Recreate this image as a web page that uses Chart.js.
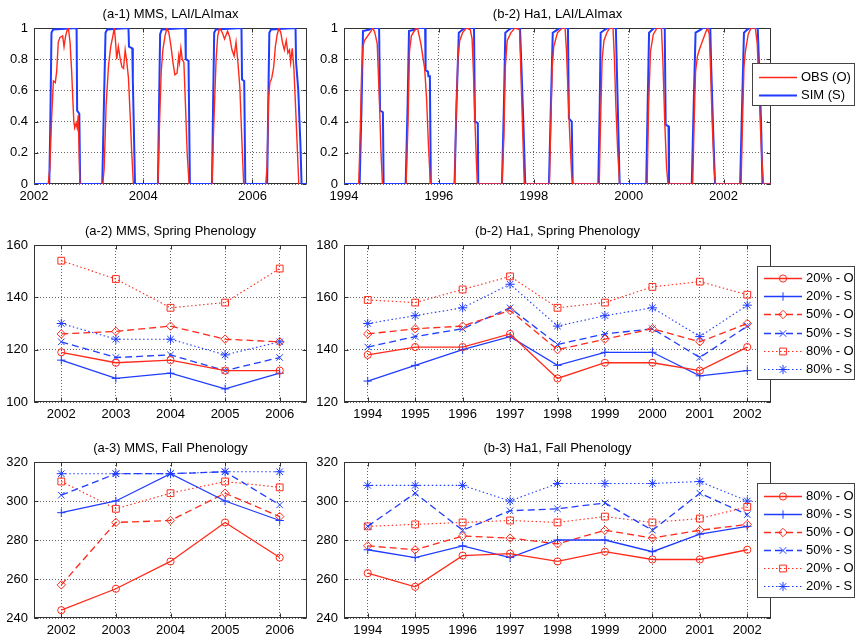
<!DOCTYPE html>
<html>
<head>
<meta charset="utf-8">
<script src="https://cdn.jsdelivr.net/npm/chart.js@4.4.0/dist/chart.umd.min.js"></script>
<style>
  html, body { margin: 0; padding: 0; background: #fff; }
  body { width: 855px; height: 642px; position: relative; overflow: hidden; }
  canvas { position: absolute; }
</style>
</head>
<body>
<canvas id="mmsLai" style="left:0;top:2px" width="320" height="204"></canvas>
<canvas id="ha1Lai" style="left:310px;top:2px" width="545" height="204"></canvas>
<canvas id="mmsSpring" style="left:0;top:219px" width="320" height="205"></canvas>
<canvas id="ha1Spring" style="left:310px;top:219px" width="545" height="205"></canvas>
<canvas id="mmsFall" style="left:0;top:436px" width="320" height="204"></canvas>
<canvas id="ha1Fall" style="left:310px;top:436px" width="545" height="204"></canvas>
<script>
// ---- data ----
const MMS_YEARS = ['2002', '2003', '2004', '2005', '2006'];
const HA1_YEARS = ['1994', '1995', '1996', '1997', '1998', '1999', '2000', '2001', '2002'];
const MMS_LAI_TICKS = [2002, 2004, 2006];
const HA1_LAI_TICKS = [1994, 1996, 1998, 2000, 2002];

// LAI/LAImax, [decimal year, value]; null = no observation
const mmsObs = [
  [2002.26, 0], [2002.29, 0.10], [2002.32, 0.40], [2002.355, 0.66], [2002.39, 0.65], [2002.415, 0.72],
  [2002.445, 0.91], [2002.475, 0.94], [2002.525, 0.95], [2002.55, 0.88], [2002.575, 0.94], [2002.60, 0.98],
  [2002.63, 1.0], [2002.66, 0.91], [2002.69, 0.72], [2002.71, 0.55], [2002.73, 0.40], [2002.745, 0.36],
  [2002.77, 0.39], [2002.79, 0.36], [2002.81, 0.44], [2002.84, 0],
  [2003.0, null],
  [2003.26, 0], [2003.285, 0.10], [2003.32, 0.50], [2003.365, 0.76], [2003.405, 0.88], [2003.445, 0.95],
  [2003.47, 1.0], [2003.49, 0.93], [2003.515, 0.80], [2003.545, 0.88], [2003.58, 0.80], [2003.61, 0.75],
  [2003.64, 0.74], [2003.67, 0.86], [2003.70, 0.78], [2003.73, 0.68], [2003.76, 0.45], [2003.79, 0.20], [2003.82, 0],
  [2004.0, null],
  [2004.27, 0], [2004.30, 0.40], [2004.33, 0.72], [2004.36, 0.86], [2004.40, 0.95], [2004.435, 1.0],
  [2004.47, 0.97], [2004.51, 0.88], [2004.545, 0.78], [2004.58, 0.70], [2004.62, 0.71], [2004.65, 0.82],
  [2004.665, 0.78], [2004.69, 0.87], [2004.715, 0.80], [2004.745, 0.78], [2004.775, 0.50], [2004.805, 0.20], [2004.84, 0],
  [2005.0, null],
  [2005.26, 0], [2005.285, 0.30], [2005.31, 0.55], [2005.335, 0.80], [2005.365, 0.95], [2005.40, 1.0],
  [2005.45, 0.97], [2005.49, 0.93], [2005.545, 0.98], [2005.585, 0.94], [2005.625, 0.86], [2005.665, 0.82],
  [2005.70, 0.91], [2005.73, 0.80], [2005.77, 0.62], [2005.805, 0.30], [2005.84, 0],
  [2006.0, null],
  [2006.245, 0], [2006.27, 0.12], [2006.295, 0.55], [2006.32, 0.65], [2006.355, 0.68], [2006.39, 0.75],
  [2006.42, 0.88], [2006.455, 0.96], [2006.485, 1.0], [2006.52, 0.97], [2006.555, 0.90], [2006.585, 0.86],
  [2006.62, 0.92], [2006.65, 0.84], [2006.68, 0.86], [2006.70, 0.78], [2006.73, 0.87], [2006.76, 0.74],
  [2006.79, 0.50], [2006.82, 0.25], [2006.85, 0]
];
const mmsSim = [
  [2002.0, 0], [2002.28, 0], [2002.30, 0.42], [2002.32, 0.97], [2002.35, 0.99], [2002.78, 1.0],
  [2002.79, 0.47], [2002.83, 0.45], [2002.845, 0],
  [2003.25, 0], [2003.28, 0.50], [2003.31, 0.97], [2003.34, 0.99], [2003.73, 1.0], [2003.74, 0.88],
  [2003.80, 0.87], [2003.81, 0.67], [2003.85, 0],
  [2004.27, 0], [2004.29, 0.50], [2004.31, 0.96], [2004.34, 0.99], [2004.77, 1.0], [2004.78, 0.80],
  [2004.83, 0.79], [2004.855, 0],
  [2005.26, 0], [2005.28, 0.50], [2005.30, 0.97], [2005.33, 0.99], [2005.80, 1.0], [2005.81, 0.67],
  [2005.85, 0.66], [2005.87, 0],
  [2006.27, 0], [2006.29, 0.50], [2006.31, 0.97], [2006.34, 0.99], [2006.79, 1.0], [2006.80, 0.78],
  [2006.84, 0.60], [2006.88, 0.25], [2006.90, 0], [2007.0, 0]
];
const ha1Obs = [
  [1994.31, 0], [1994.34, 0.30], [1994.37, 0.70], [1994.40, 0.88], [1994.43, 0.92], [1994.50, 0.95],
  [1994.57, 0.98], [1994.61, 1.0], [1994.65, 0.97], [1994.70, 0.90], [1994.75, 0.50], [1994.78, 0.20], [1994.81, 0],
  [1995.0, null],
  [1995.31, 0], [1995.35, 0.40], [1995.38, 0.85], [1995.42, 0.95], [1995.50, 0.99], [1995.55, 1.0],
  [1995.62, 0.90], [1995.70, 0.74], [1995.74, 0.55], [1995.78, 0.25], [1995.82, 0],
  [1996.0, null],
  [1996.33, 0], [1996.36, 0.40], [1996.40, 0.80], [1996.44, 0.92], [1996.50, 0.97], [1996.58, 1.0],
  [1996.66, 0.99], [1996.70, 0.93], [1996.73, 0.70], [1996.76, 0.40], [1996.79, 0.15], [1996.81, 0],
  [1997.33, 0], [1997.37, 0.30], [1997.40, 0.75], [1997.44, 0.92], [1997.52, 0.97], [1997.60, 1.0],
  [1997.70, 0.99], [1997.73, 0.70], [1997.77, 0.30], [1997.80, 0],
  [1998.33, 0], [1998.36, 0.40], [1998.39, 0.75], [1998.42, 0.88], [1998.50, 0.97], [1998.60, 1.0],
  [1998.66, 1.0], [1998.69, 0.85], [1998.72, 0.60], [1998.76, 0.30], [1998.80, 0.05], [1998.82, 0],
  [1999.38, 0], [1999.40, 0.30], [1999.44, 0.80], [1999.48, 0.92], [1999.54, 0.97], [1999.60, 1.0],
  [1999.67, 1.0], [1999.70, 0.80], [1999.73, 0.50], [1999.77, 0.20], [1999.81, 0],
  [2000.0, null],
  [2000.39, 0], [2000.42, 0.50], [2000.46, 0.85], [2000.52, 0.96], [2000.60, 1.0], [2000.69, 1.0],
  [2000.72, 0.80], [2000.76, 0.40], [2000.80, 0.10], [2000.83, 0],
  [2001.35, 0], [2001.38, 0.40], [2001.41, 0.72], [2001.45, 0.82], [2001.50, 0.87], [2001.56, 0.92],
  [2001.62, 0.97], [2001.66, 1.0], [2001.70, 0.96], [2001.73, 0.70], [2001.76, 0.40], [2001.80, 0.10], [2001.83, 0],
  [2002.37, 0], [2002.40, 0.40], [2002.43, 0.75], [2002.46, 0.85], [2002.52, 0.96], [2002.58, 1.0],
  [2002.67, 1.0], [2002.71, 0.90], [2002.76, 0.50], [2002.80, 0.20], [2002.84, 0], [2003.0, 0]
];
const ha1Sim = [
  [1994.0, 0], [1994.33, 0], [1994.37, 0.50], [1994.40, 0.98], [1994.54, 0.99], [1994.57, 1.0], [1994.74, 1.0],
  [1994.76, 0.47], [1994.82, 0.46], [1994.835, 0],
  [1995.30, 0], [1995.34, 0.50], [1995.37, 0.98], [1995.50, 0.99], [1995.55, 1.0], [1995.71, 1.0],
  [1995.72, 0.73], [1995.77, 0.72], [1995.78, 0.69], [1995.81, 0.69], [1995.83, 0],
  [1996.33, 0], [1996.37, 0.50], [1996.42, 0.97], [1996.50, 0.99], [1996.55, 1.0], [1996.74, 1.0],
  [1996.76, 0.40], [1996.82, 0.39], [1996.83, 0],
  [1997.33, 0], [1997.37, 0.50], [1997.40, 0.97], [1997.48, 0.99], [1997.53, 1.0], [1997.71, 1.0],
  [1997.74, 0.75], [1997.78, 0.40], [1997.81, 0.10], [1997.82, 0],
  [1998.32, 0], [1998.36, 0.50], [1998.40, 0.97], [1998.50, 0.99], [1998.55, 1.0], [1998.72, 1.0],
  [1998.74, 0.42], [1998.80, 0.40], [1998.82, 0],
  [1999.36, 0], [1999.39, 0.50], [1999.41, 0.97], [1999.50, 0.99], [1999.56, 1.0], [1999.73, 1.0],
  [1999.77, 0.50], [1999.81, 0],
  [2000.37, 0], [2000.40, 0.50], [2000.43, 0.97], [2000.50, 0.99], [2000.54, 1.0], [2000.76, 1.0],
  [2000.78, 0.38], [2000.84, 0.37], [2000.85, 0],
  [2001.33, 0], [2001.37, 0.50], [2001.41, 0.97], [2001.52, 0.99], [2001.56, 1.0], [2001.72, 1.0],
  [2001.74, 0.75], [2001.78, 0.35], [2001.82, 0],
  [2002.35, 0], [2002.39, 0.50], [2002.43, 0.97], [2002.50, 0.99], [2002.55, 1.0], [2002.72, 1.0],
  [2002.75, 0.75], [2002.79, 0.40], [2002.82, 0], [2003.0, 0]
];

// spring phenology (day of year)
const mmsSpring20Obs = [119, 115, 116, 112, 112];
const mmsSpring20Sim = [116, 109, 111, 105, 111];
const mmsSpring50Obs = [126, 127, 129, 124, 123];
const mmsSpring50Sim = [123, 117, 118, 112, 117];
const mmsSpring80Obs = [154, 147, 136, 138, 151];
const mmsSpring80Sim = [130, 124, 124, 118, 123];

const ha1Spring20Obs = [138, 141, 141, 146, 129, 135, 135, 132, 141];
const ha1Spring20Sim = [128, 134, 140, 145, 134, 139, 139, 130, 132];
const ha1Spring50Obs = [146, 148, 149, 155, 140, 144, 148, 143, 150];
const ha1Spring50Sim = [141, 145, 148, 156, 142, 146, 148, 137, 149];
const ha1Spring80Obs = [159, 158, 163, 168, 156, 158, 164, 166, 161];
const ha1Spring80Sim = [150, 153, 156, 165, 149, 153, 156, 145, 157];

// fall phenology (day of year)
const mmsFall80Obs = [244, 255, 269, 289, 271];
const mmsFall80Sim = [294, 300, 314, 300, 290];
const mmsFall50Obs = [257, 289, 290, 304, 292];
const mmsFall50Sim = [303, 314, 314, 315, 298];
const mmsFall20Obs = [310, 296, 304, 310, 307];
const mmsFall20Sim = [314, 314, 314, 315, 315];

const ha1Fall80Obs = [263, 256, 272, 273, 269, 274, 270, 270, 275];
const ha1Fall80Sim = [275, 271, 277, 271, 280, 280, 274, 283, 287];
const ha1Fall50Obs = [277, 275, 282, 281, 278, 285, 281, 285, 288];
const ha1Fall50Sim = [287, 304, 285, 295, 296, 299, 285, 304, 293];
const ha1Fall20Obs = [287, 288, 289, 290, 289, 292, 289, 291, 297];
const ha1Fall20Sim = [308, 308, 308, 300, 309, 309, 309, 310, 300];

// ---- styles ----
const RED = '#ff2a1a';
const BLUE = '#1f3cff';
const FONT = "'Liberation Sans', Arial, Helvetica, sans-serif";

Chart.defaults.font.family = FONT;
Chart.defaults.font.size = 13;
Chart.defaults.color = '#000';
Chart.defaults.animation = false;

// solid / dashed / dotted, O then S
const SERIES_STYLES = [
  {color: RED, dash: [], width: 1.3, pointStyle: 'circle', radius: 3.6},
  {color: BLUE, dash: [], width: 1.3, pointStyle: 'cross', radius: 4.2},
  {color: RED, dash: [7, 4], width: 1.3, pointStyle: 'rectRot', radius: 4.2},
  {color: BLUE, dash: [7, 4], width: 1.3, pointStyle: 'crossRot', radius: 4.6},
  {color: RED, dash: [1.5, 2.5], width: 1.1, pointStyle: 'rect', radius: 4.8},
  {color: BLUE, dash: [1.5, 2.5], width: 1.1, pointStyle: 'star', radius: 4.6}
];

// draws the axes box with inward ticks like the original figure
const frameBoxPlugin = {
  id: 'frameBox',
  beforeDatasetsDraw(chart) {
    const {ctx, chartArea: a, scales} = chart;
    const l = Math.round(a.left) + 0.5, t = Math.round(a.top) + 0.5;
    const r = Math.round(a.right) - 0.5, b = Math.round(a.bottom) - 0.5;
    ctx.save();
    ctx.strokeStyle = '#333';
    ctx.lineWidth = 1;
    ctx.setLineDash([]);
    ctx.strokeRect(l, t, r - l, b - t);
    ctx.beginPath();
    scales.x.ticks.forEach((tick, i) => {
      const px = Math.round(scales.x.getPixelForTick(i)) + 0.5;
      ctx.moveTo(px, b); ctx.lineTo(px, b - 4);
      ctx.moveTo(px, t); ctx.lineTo(px, t + 4);
    });
    scales.y.ticks.forEach((tick, i) => {
      const py = Math.round(scales.y.getPixelForTick(i)) + 0.5;
      ctx.moveTo(l, py); ctx.lineTo(l + 4, py);
      ctx.moveTo(r, py); ctx.lineTo(r - 4, py);
    });
    ctx.stroke();
    ctx.restore();
  }
};

// boxed legend that may overlap the axes, as in the original
const legendBoxPlugin = {
  id: 'legendBox',
  afterDraw(chart, args, opts) {
    const box = opts.box;
    if (!box) return;
    const ctx = chart.ctx;
    ctx.save();
    ctx.fillStyle = '#fff';
    ctx.fillRect(box.x, box.y, box.w, box.h);
    ctx.strokeStyle = '#444';
    ctx.lineWidth = 1;
    ctx.strokeRect(box.x + 0.5, box.y + 0.5, box.w, box.h);
    ctx.font = `13px ${FONT}`;
    ctx.textBaseline = 'middle';
    chart.data.datasets.forEach((ds, i) => {
      const cy = Math.round(box.rowTop + i * box.rowGap) + 0.5;
      ctx.strokeStyle = ds.borderColor;
      ctx.lineWidth = ds.borderWidth;
      ctx.setLineDash(ds.borderDash || []);
      ctx.beginPath();
      ctx.moveTo(box.lineX1, cy);
      ctx.lineTo(box.lineX2, cy);
      ctx.stroke();
      ctx.setLineDash([]);
      if (ds.pointRadius) {
        ctx.lineWidth = 1;
        ctx.fillStyle = 'rgba(0,0,0,0)';
        Chart.helpers.drawPoint(ctx, {pointStyle: ds.pointStyle, radius: ds.pointRadius, borderWidth: 1, rotation: 0},
          (box.lineX1 + box.lineX2) / 2, cy);
      }
      ctx.fillStyle = '#000';
      ctx.fillText(ds.label, box.textX, cy);
    });
    ctx.restore();
  }
};

Chart.register(frameBoxPlugin, legendBoxPlugin);

const gridStyle = {color: 'rgba(0,0,0,0.6)', lineWidth: 1, drawTicks: false};
const gridBorder = {display: false, dash: [1, 2]};

const baseOptions = (title, yMin, yMax, yStep, rightPad, legendBox) => ({
  responsive: false,
  devicePixelRatio: 1,
  layout: {padding: {top: 0, right: rightPad, bottom: 0, left: 0}},
  plugins: {
    legend: {display: false},
    tooltip: {enabled: false},
    title: {
      display: true,
      text: title,
      fullSize: false,
      font: {size: 13, weight: 'normal', lineHeight: '12px'},
      padding: {top: 6, bottom: 8},
      color: '#000'
    },
    legendBox: {box: legendBox}
  },
  scales: {
    y: {
      min: yMin,
      max: yMax,
      ticks: {stepSize: yStep, padding: 6, callback: (v) => String(Math.round(v * 10) / 10)},
      grid: gridStyle,
      border: gridBorder,
      afterFit: (scale) => { scale.width = 34; }
    }
  }
});

const makeLaiChart = (id, title, obs, sim, ticks, xMin, xMax, rightPad, legendBox) => {
  const options = baseOptions(title, 0, 1, 0.2, rightPad, legendBox);
  options.scales.x = {
    type: 'linear',
    min: xMin,
    max: xMax,
    afterBuildTicks: (scale) => { scale.ticks = ticks.map((v) => ({value: v})); },
    ticks: {padding: 5, callback: (v) => String(v)},
    grid: gridStyle,
    border: gridBorder,
    afterFit: (scale) => { scale.height = 22; }
  };
  return new Chart(document.getElementById(id), {
    type: 'line',
    data: {
      datasets: [
        {label: 'OBS (O)', data: obs.map((p) => ({x: p[0], y: p[1]})), borderColor: RED, borderWidth: 1.4, pointRadius: 0},
        {label: 'SIM (S)', data: sim.map((p) => ({x: p[0], y: p[1]})), borderColor: BLUE, borderWidth: 2, pointRadius: 0}
      ]
    },
    options
  });
};

const makePhenoChart = (id, title, years, series, labels, yMin, yMax, rightPad, legendBox) => {
  const options = baseOptions(title, yMin, yMax, 20, rightPad, legendBox);
  options.scales.x = {
    type: 'category',
    offset: true,
    ticks: {padding: 5},
    grid: Object.assign({offset: false}, gridStyle),
    border: gridBorder,
    afterFit: (scale) => { scale.height = 22; }
  };
  return new Chart(document.getElementById(id), {
    type: 'line',
    data: {
      labels: years,
      datasets: series.map((values, i) => {
        const s = SERIES_STYLES[i];
        return {
          label: labels[i],
          data: values,
          borderColor: s.color,
          borderWidth: s.width,
          borderDash: s.dash,
          pointStyle: s.pointStyle,
          pointRadius: s.radius,
          pointBorderWidth: 1,
          pointBorderColor: s.color,
          pointBackgroundColor: 'rgba(0,0,0,0)',
          tension: 0
        };
      })
    },
    options
  });
};

const SPRING_LABELS = ['20% - O', '20% - S', '50% - O', '50% - S', '80% - O', '80% - S'];
const FALL_LABELS = ['80% - O', '80% - S', '50% - O', '50% - S', '20% - O', '20% - S'];

makeLaiChart('mmsLai', '(a-1) MMS, LAI/LAImax', mmsObs, mmsSim, MMS_LAI_TICKS, 2002, 2007, 13, null);
makeLaiChart('ha1Lai', '(b-2) Ha1, LAI/LAImax', ha1Obs, ha1Sim, HA1_LAI_TICKS, 1994, 2003, 84,
  {x: 442, y: 61, w: 102, h: 42, rowTop: 75, rowGap: 18, lineX1: 449, lineX2: 487, textX: 491});

makePhenoChart('mmsSpring', '(a-2) MMS, Spring Phenology', MMS_YEARS,
  [mmsSpring20Obs, mmsSpring20Sim, mmsSpring50Obs, mmsSpring50Sim, mmsSpring80Obs, mmsSpring80Sim],
  SPRING_LABELS, 100, 160, 13, null);
makePhenoChart('ha1Spring', '(b-2) Ha1, Spring Phenology', HA1_YEARS,
  [ha1Spring20Obs, ha1Spring20Sim, ha1Spring50Obs, ha1Spring50Sim, ha1Spring80Obs, ha1Spring80Sim],
  SPRING_LABELS, 120, 180, 84,
  {x: 447, y: 47, w: 97, h: 113, rowTop: 59, rowGap: 18.2, lineX1: 454, lineX2: 492, textX: 496});

makePhenoChart('mmsFall', '(a-3) MMS, Fall Phenology', MMS_YEARS,
  [mmsFall80Obs, mmsFall80Sim, mmsFall50Obs, mmsFall50Sim, mmsFall20Obs, mmsFall20Sim],
  FALL_LABELS, 240, 320, 13, null);
makePhenoChart('ha1Fall', '(b-3) Ha1, Fall Phenology', HA1_YEARS,
  [ha1Fall80Obs, ha1Fall80Sim, ha1Fall50Obs, ha1Fall50Sim, ha1Fall20Obs, ha1Fall20Sim],
  FALL_LABELS, 240, 320, 84,
  {x: 447, y: 47, w: 97, h: 114, rowTop: 60, rowGap: 18, lineX1: 454, lineX2: 492, textX: 496});
</script>
</body>
</html>
